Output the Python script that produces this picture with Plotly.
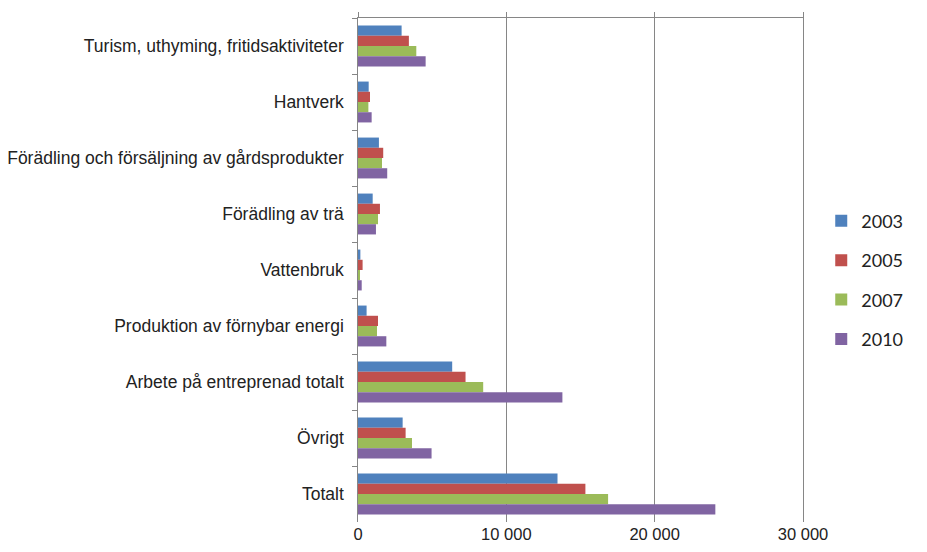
import plotly.graph_objects as go

categories = [
    "Turism, uthyming, fritidsaktiviteter",
    "Hantverk",
    "Förädling och försäljning av gårdsprodukter",
    "Förädling av trä",
    "Vattenbruk",
    "Produktion av förnybar energi",
    "Arbete på entreprenad totalt",
    "Övrigt",
    "Totalt",
]
years = ["2003", "2005", "2007", "2010"]
v2003 = [2940, 720, 1410, 990, 160, 580, 6350, 3010, 13450]
v2005 = [3430, 810, 1700, 1480, 310, 1350, 7250, 3210, 15330]
v2007 = [3930, 700, 1620, 1350, 130, 1280, 8440, 3640, 16860]
v2010 = [4560, 920, 1970, 1210, 250, 1910, 13780, 4960, 24090]
series = [v2003, v2005, v2007, v2010]
colors = ["#4F81BD", "#C0504D", "#9BBB59", "#8064A2"]
x_ticks = [0, 10000, 20000, 30000]
x_tick_labels = ["0", "10 000", "20 000", "30 000"]

fig = go.Figure()
for i, (yr, vals, col) in enumerate(zip(years, series, colors)):
    fig.add_trace(go.Bar(
        y=categories, x=vals, name=yr, orientation="h",
        marker=dict(color=col, line=dict(width=0)),
        legendgroup=yr,
    ))

# invisible trace to carry the top x-axis line
fig.add_trace(go.Scatter(x=[0, 30000], y=[categories[0], categories[0]], xaxis="x2",
                         mode="lines", line=dict(width=0), showlegend=False, hoverinfo="skip"))

fig.update_layout(
    width=919, height=544,
    paper_bgcolor="white", plot_bgcolor="white",
    margin=dict(l=350, r=124, t=10, b=30, autoexpand=False),
    barmode="group", bargap=0.27, bargroupgap=0,
    font=dict(family="Liberation Sans, Arial, sans-serif", color="#222222"),
    xaxis=dict(
        range=[0, 30000], tickvals=x_ticks, ticktext=x_tick_labels,
        showgrid=True, gridcolor="#868686", gridwidth=1,
        showline=False, zeroline=False, ticks="", automargin=False,
        tickfont=dict(size=16.5, color="#222222"),
    ),
    xaxis2=dict(
        range=[0, 30000], overlaying="x", side="top", matches="x",
        tickvals=x_ticks, showticklabels=False, showgrid=False,
        showline=True, linecolor="#868686", linewidth=1, automargin=False,
        ticks="outside", ticklen=5, tickcolor="#868686",
    ),
    yaxis=dict(
        autorange="reversed", categoryorder="array", categoryarray=categories,
        showline=True, linecolor="#868686", linewidth=1, mirror=True,
        ticks="outside", tickson="boundaries", ticklen=5, tickcolor="#868686",
        showgrid=False, zeroline=False, automargin=False,
        tickfont=dict(size=17.5, color="#222222"), ticksuffix="  ",
    ),
    legend=dict(
        x=1.041, xanchor="left", y=0.48, yanchor="middle",
        font=dict(size=18, family="Lato, Liberation Sans, sans-serif", color="#222222"),
        tracegroupgap=13, itemwidth=30, traceorder="grouped",
        bgcolor="rgba(0,0,0,0)",
    ),
)

fig.write_html("out.html")
